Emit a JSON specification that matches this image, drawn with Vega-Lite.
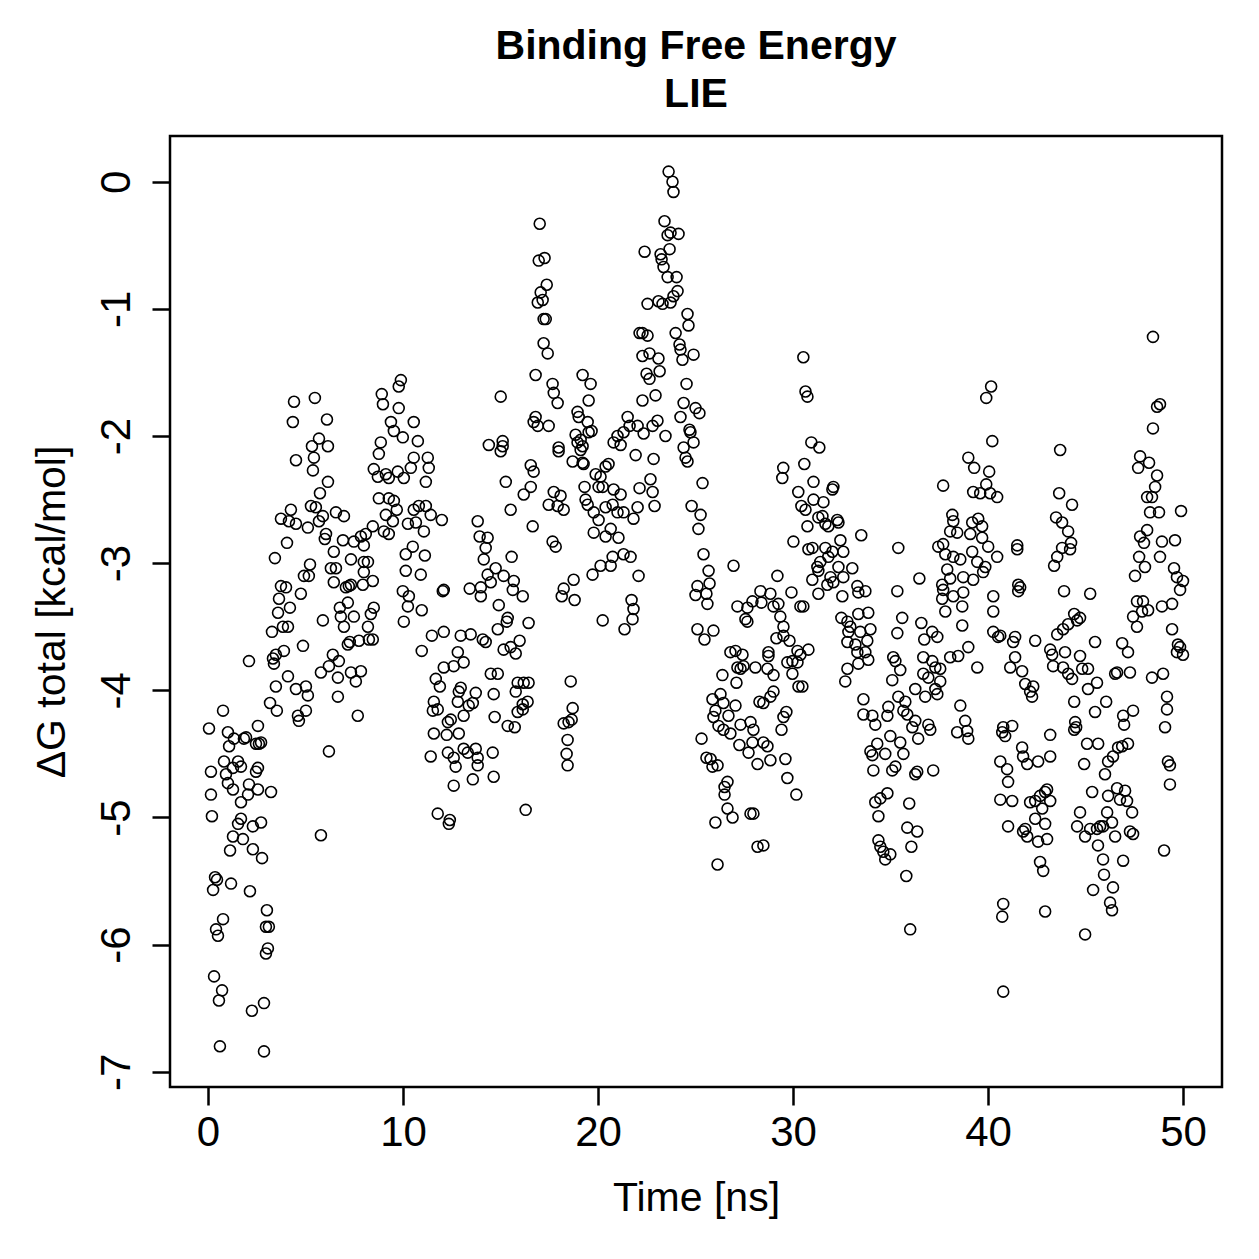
{
"$schema": "https://vega.github.io/schema/vega-lite/v6.json",
"width": 1052, "height": 951,
"autosize": {"type": "none"},
"padding": {"left": 170, "top": 136, "right": 37, "bottom": 172},
"background": "white",
"title": {"text": ["Binding Free Energy", "LIE"], "font": "Liberation Sans", "fontSize": 41, "fontWeight": "bold", "color": "black", "anchor": "middle", "offset": 20, "lineHeight": 48},
"data": {"values": [
{"t":0.77,"g":-4.16},{"t":0.05,"g":-4.30},{"t":1.02,"g":-4.33},{"t":2.56,"g":-4.28},{"t":1.33,"g":-4.38},{"t":1.95,"g":-4.37},{"t":1.84,"g":-4.38},{"t":1.08,"g":-4.44},{"t":2.46,"g":-4.42},{"t":2.61,"g":-4.42},{"t":2.72,"g":-4.41},{"t":3.18,"g":-4.10},{"t":3.53,"g":-4.16},{"t":4.61,"g":-4.20},{"t":4.66,"g":-4.24},{"t":0.82,"g":-4.56},{"t":1.54,"g":-4.56},{"t":1.69,"g":-4.60},{"t":0.15,"g":-4.64},{"t":0.92,"g":-4.66},{"t":1.28,"g":-4.61},{"t":2.56,"g":-4.61},{"t":2.46,"g":-4.64},{"t":1.02,"g":-4.73},{"t":1.28,"g":-4.78},{"t":2.10,"g":-4.74},{"t":2.56,"g":-4.78},{"t":3.23,"g":-4.80},{"t":0.15,"g":-4.82},{"t":2.05,"g":-4.82},{"t":1.69,"g":-4.88},{"t":0.20,"g":-4.99},{"t":1.69,"g":-5.01},{"t":1.54,"g":-5.05},{"t":2.30,"g":-5.07},{"t":2.72,"g":-5.04},{"t":1.28,"g":-5.15},{"t":1.79,"g":-5.17},{"t":1.13,"g":-5.26},{"t":2.30,"g":-5.25},{"t":2.77,"g":-5.32},{"t":0.36,"g":-5.47},{"t":0.46,"g":-5.49},{"t":0.26,"g":-5.57},{"t":1.18,"g":-5.52},{"t":2.15,"g":-5.58},{"t":3.02,"g":-5.73},{"t":0.77,"g":-5.80},{"t":0.41,"g":-5.88},{"t":0.51,"g":-5.93},{"t":2.97,"g":-5.86},{"t":3.12,"g":-5.86},{"t":3.07,"g":-6.03},{"t":2.97,"g":-6.07},{"t":0.31,"g":-6.25},{"t":0.72,"g":-6.36},{"t":0.56,"g":-6.44},{"t":2.87,"g":-6.46},{"t":2.25,"g":-6.52},{"t":0.61,"g":-6.80},{"t":2.87,"g":-6.84},
{"t":4.41,"g":-1.73},{"t":5.48,"g":-1.70},{"t":4.35,"g":-1.89},{"t":6.10,"g":-1.87},{"t":5.69,"g":-2.02},{"t":5.33,"g":-2.08},{"t":6.15,"g":-2.08},{"t":4.51,"g":-2.19},{"t":5.43,"g":-2.17},{"t":5.38,"g":-2.27},{"t":6.15,"g":-2.36},{"t":5.74,"g":-2.45},{"t":8.91,"g":-1.67},{"t":8.97,"g":-1.75},{"t":9.78,"g":-1.61},{"t":9.78,"g":-1.78},{"t":9.38,"g":-1.89},{"t":9.53,"g":-1.96},{"t":8.86,"g":-2.05},{"t":8.76,"g":-2.14},{"t":8.50,"g":-2.26},{"t":8.71,"g":-2.32},{"t":9.12,"g":-2.30},{"t":9.27,"g":-2.33},{"t":9.73,"g":-2.28},{"t":8.76,"g":-2.49},{"t":9.27,"g":-2.49},{"t":9.53,"g":-2.51},{"t":9.12,"g":-2.62},{"t":9.68,"g":-2.58},{"t":9.48,"g":-2.67},{"t":9.02,"g":-2.75},{"t":9.27,"g":-2.77},{"t":5.28,"g":-2.55},{"t":5.53,"g":-2.56},{"t":5.89,"g":-2.63},{"t":4.25,"g":-2.58},{"t":3.74,"g":-2.65},{"t":4.15,"g":-2.67},{"t":4.51,"g":-2.69},{"t":5.12,"g":-2.72},{"t":5.69,"g":-2.67},{"t":6.56,"g":-2.60},{"t":6.97,"g":-2.63},{"t":6.05,"g":-2.77},{"t":5.99,"g":-2.81},{"t":6.92,"g":-2.82},{"t":7.48,"g":-2.83},{"t":7.84,"g":-2.79},{"t":8.09,"g":-2.77},{"t":7.99,"g":-2.86},{"t":8.45,"g":-2.71},{"t":4.05,"g":-2.84},{"t":3.43,"g":-2.96},{"t":6.45,"g":-2.91},{"t":5.23,"g":-3.01},{"t":4.92,"g":-3.10},{"t":5.17,"g":-3.10},{"t":6.30,"g":-3.04},{"t":6.56,"g":-3.04},{"t":7.33,"g":-2.97},{"t":7.99,"g":-2.99},{"t":8.20,"g":-2.99},{"t":7.99,"g":-3.07},{"t":8.45,"g":-3.14},{"t":7.94,"g":-3.17},{"t":7.22,"g":-3.18},{"t":7.07,"g":-3.19},{"t":7.33,"g":-3.17},{"t":6.45,"g":-3.15},{"t":3.74,"g":-3.18},{"t":4.00,"g":-3.19},{"t":3.64,"g":-3.28},{"t":4.20,"g":-3.35},{"t":3.59,"g":-3.39},{"t":4.76,"g":-3.24},{"t":3.84,"g":-3.50},{"t":4.10,"g":-3.50},{"t":3.28,"g":-3.54},{"t":5.89,"g":-3.45},{"t":6.76,"g":-3.35},{"t":6.81,"g":-3.42},{"t":7.48,"g":-3.42},{"t":7.17,"g":-3.31},{"t":6.97,"g":-3.50},{"t":8.35,"g":-3.40},{"t":8.50,"g":-3.35},{"t":8.20,"g":-3.50},{"t":8.25,"g":-3.60},{"t":8.45,"g":-3.60},{"t":7.27,"g":-3.62},{"t":7.17,"g":-3.64},{"t":7.74,"g":-3.61},{"t":4.87,"g":-3.65},{"t":6.40,"g":-3.72},{"t":6.71,"g":-3.77},{"t":6.20,"g":-3.81},{"t":5.79,"g":-3.86},{"t":6.66,"g":-3.90},{"t":7.33,"g":-3.86},{"t":7.84,"g":-3.85},{"t":7.58,"g":-3.93},{"t":3.89,"g":-3.69},{"t":3.48,"g":-3.72},{"t":3.33,"g":-3.75},{"t":3.38,"g":-3.79},{"t":2.10,"g":-3.77},{"t":4.10,"g":-3.89},{"t":3.48,"g":-3.97},{"t":4.51,"g":-3.99},{"t":5.02,"g":-3.97},{"t":5.12,"g":-4.04},{"t":6.66,"g":-4.05},{"t":7.68,"g":-4.20},{"t":5.02,"g":-4.16},{"t":6.20,"g":-4.48},{"t":5.79,"g":-5.14},
{"t":17.01,"g":-0.33},{"t":16.96,"g":-0.62},{"t":17.26,"g":-0.60},{"t":17.37,"g":-0.81},{"t":17.06,"g":-0.87},{"t":16.91,"g":-0.95},{"t":17.16,"g":-0.93},{"t":17.21,"g":-1.08},{"t":17.32,"g":-1.08},{"t":17.21,"g":-1.27},{"t":17.42,"g":-1.35},{"t":16.80,"g":-1.52},{"t":17.67,"g":-1.59},{"t":17.73,"g":-1.66},{"t":17.93,"g":-1.74},{"t":19.21,"g":-1.52},{"t":19.62,"g":-1.59},{"t":19.52,"g":-1.72},{"t":15.01,"g":-1.69},{"t":16.80,"g":-1.85},{"t":16.70,"g":-1.89},{"t":16.91,"g":-1.92},{"t":17.47,"g":-1.92},{"t":18.95,"g":-1.81},{"t":19.01,"g":-1.85},{"t":19.47,"g":-1.89},{"t":19.67,"g":-1.96},{"t":19.52,"g":-1.97},{"t":18.85,"g":-1.99},{"t":19.11,"g":-2.03},{"t":18.95,"g":-2.05},{"t":19.21,"g":-2.08},{"t":19.11,"g":-2.11},{"t":18.70,"g":-2.20},{"t":19.21,"g":-2.21},{"t":19.26,"g":-2.22},{"t":17.98,"g":-2.09},{"t":17.98,"g":-2.12},{"t":14.40,"g":-2.07},{"t":15.11,"g":-2.04},{"t":15.11,"g":-2.08},{"t":15.01,"g":-2.12},{"t":16.55,"g":-2.23},{"t":16.70,"g":-2.28},{"t":15.27,"g":-2.36},{"t":16.19,"g":-2.46},{"t":16.55,"g":-2.40},{"t":17.73,"g":-2.44},{"t":18.08,"g":-2.47},{"t":19.88,"g":-2.30},{"t":20.03,"g":-2.40},{"t":19.31,"g":-2.40},{"t":9.89,"g":-1.56},{"t":10.55,"g":-1.89},{"t":9.99,"g":-2.01},{"t":10.76,"g":-2.04},{"t":10.55,"g":-2.17},{"t":11.27,"g":-2.17},{"t":11.32,"g":-2.25},{"t":10.40,"g":-2.25},{"t":10.04,"g":-2.33},{"t":11.17,"g":-2.36},
{"t":10.81,"g":-2.55},{"t":11.17,"g":-2.55},{"t":10.55,"g":-2.58},{"t":10.25,"g":-2.69},{"t":10.66,"g":-2.68},{"t":11.07,"g":-2.75},{"t":10.50,"g":-2.87},{"t":10.14,"g":-2.93},{"t":11.12,"g":-2.94},{"t":11.99,"g":-2.66},{"t":11.42,"g":-2.62},{"t":10.14,"g":-3.06},{"t":10.91,"g":-3.09},{"t":9.99,"g":-3.22},{"t":10.30,"g":-3.26},{"t":10.25,"g":-3.34},{"t":10.96,"g":-3.37},{"t":10.04,"g":-3.46},{"t":12.04,"g":-3.22},{"t":12.09,"g":-3.21},{"t":13.83,"g":-2.67},{"t":13.93,"g":-2.79},{"t":14.34,"g":-2.80},{"t":14.24,"g":-2.88},{"t":14.14,"g":-2.97},{"t":14.75,"g":-3.04},{"t":14.34,"g":-3.09},{"t":15.16,"g":-3.10},{"t":14.50,"g":-3.15},{"t":13.99,"g":-3.19},{"t":13.42,"g":-3.20},{"t":15.68,"g":-3.14},{"t":15.63,"g":-3.21},{"t":13.99,"g":-3.26},{"t":16.14,"g":-3.26},{"t":15.52,"g":-2.58},{"t":16.65,"g":-2.71},{"t":15.57,"g":-2.95},{"t":14.91,"g":-3.33},{"t":15.37,"g":-3.43},{"t":15.32,"g":-3.46},{"t":16.44,"g":-3.47},{"t":14.86,"g":-3.52},{"t":11.48,"g":-3.57},{"t":12.09,"g":-3.54},{"t":12.96,"g":-3.57},{"t":13.47,"g":-3.56},{"t":14.09,"g":-3.60},{"t":14.24,"g":-3.62},{"t":10.96,"g":-3.69},{"t":12.81,"g":-3.70},{"t":13.11,"g":-3.78},{"t":12.60,"g":-3.81},{"t":12.09,"g":-3.82},{"t":15.16,"g":-3.68},{"t":15.52,"g":-3.66},{"t":15.78,"g":-3.71},{"t":15.98,"g":-3.61},{"t":11.68,"g":-3.91},{"t":11.89,"g":-3.97},{"t":12.96,"g":-3.98},{"t":12.86,"g":-4.01},{"t":13.73,"g":-4.02},{"t":14.50,"g":-3.87},{"t":14.86,"g":-3.87},{"t":14.65,"g":-4.03},{"t":15.88,"g":-3.94},{"t":16.19,"g":-3.94},{"t":16.44,"g":-3.94},{"t":15.78,"g":-4.01},{"t":16.39,"g":-4.09},{"t":16.14,"g":-4.11},{"t":16.14,"g":-4.15},{"t":15.88,"g":-4.17},{"t":11.58,"g":-4.09},{"t":11.78,"g":-4.15},{"t":11.53,"g":-4.16},{"t":12.81,"g":-4.09},{"t":13.37,"g":-4.12},{"t":13.58,"g":-4.10},{"t":13.11,"g":-4.20},{"t":12.45,"g":-4.23},{"t":12.30,"g":-4.25},{"t":14.70,"g":-4.21},{"t":15.37,"g":-4.28},{"t":15.73,"g":-4.29},{"t":11.58,"g":-4.34},{"t":12.24,"g":-4.35},{"t":12.86,"g":-4.34},{"t":11.42,"g":-4.52},{"t":12.30,"g":-4.49},{"t":12.60,"g":-4.53},{"t":13.11,"g":-4.46},{"t":13.32,"g":-4.49},{"t":13.73,"g":-4.46},{"t":13.83,"g":-4.53},{"t":13.83,"g":-4.59},{"t":12.70,"g":-4.60},{"t":14.60,"g":-4.49},{"t":13.58,"g":-4.70},{"t":14.65,"g":-4.68},{"t":12.60,"g":-4.75},{"t":11.78,"g":-4.97},{"t":12.40,"g":-5.02},{"t":12.35,"g":-5.05},{"t":16.29,"g":-4.94},{"t":18.60,"g":-3.93},{"t":18.70,"g":-4.14},{"t":18.24,"g":-4.26},{"t":18.49,"g":-4.25},{"t":18.65,"g":-4.23},{"t":18.44,"g":-4.39},{"t":18.39,"g":-4.50},{"t":18.44,"g":-4.59},{"t":17.47,"g":-2.54},{"t":17.93,"g":-2.55},{"t":18.24,"g":-2.58},{"t":17.67,"g":-2.83},{"t":17.83,"g":-2.87},{"t":18.24,"g":-3.20},{"t":18.14,"g":-3.26},{"t":18.75,"g":-3.13},{"t":18.80,"g":-3.29},{"t":19.72,"g":-3.09},{"t":19.78,"g":-2.76},{"t":20.03,"g":-2.66},{"t":19.47,"g":-2.54},{"t":19.36,"g":-2.50},{"t":19.78,"g":-2.60},
{"t":23.62,"g":0.08},{"t":23.82,"g":0.00},{"t":23.87,"g":-0.08},{"t":23.41,"g":-0.31},{"t":23.57,"g":-0.42},{"t":23.72,"g":-0.40},{"t":24.13,"g":-0.41},{"t":22.39,"g":-0.55},{"t":23.21,"g":-0.57},{"t":23.26,"g":-0.61},{"t":23.36,"g":-0.67},{"t":23.67,"g":-0.53},{"t":23.57,"g":-0.75},{"t":24.03,"g":-0.75},{"t":24.08,"g":-0.86},{"t":23.87,"g":-0.90},{"t":23.72,"g":-0.95},{"t":23.31,"g":-0.96},{"t":23.10,"g":-0.94},{"t":22.54,"g":-0.96},{"t":24.59,"g":-1.04},{"t":24.64,"g":-1.13},{"t":22.13,"g":-1.19},{"t":22.28,"g":-1.19},{"t":22.54,"g":-1.21},{"t":23.98,"g":-1.19},{"t":24.18,"g":-1.28},{"t":24.23,"g":-1.32},{"t":24.33,"g":-1.40},{"t":24.90,"g":-1.36},{"t":22.28,"g":-1.37},{"t":22.64,"g":-1.35},{"t":23.10,"g":-1.39},{"t":22.49,"g":-1.51},{"t":22.64,"g":-1.55},{"t":23.16,"g":-1.49},{"t":24.54,"g":-1.59},{"t":22.28,"g":-1.72},{"t":22.95,"g":-1.68},{"t":24.39,"g":-1.74},{"t":25.00,"g":-1.78},{"t":25.20,"g":-1.82},{"t":24.23,"g":-1.85},{"t":24.69,"g":-1.95},{"t":24.74,"g":-1.97},{"t":24.90,"g":-2.05},{"t":24.39,"g":-2.09},{"t":24.49,"g":-2.17},{"t":24.59,"g":-2.20},{"t":21.52,"g":-1.85},{"t":21.62,"g":-1.92},{"t":21.31,"g":-1.97},{"t":21.00,"g":-2.00},{"t":20.80,"g":-2.05},{"t":21.16,"g":-2.07},{"t":22.03,"g":-1.92},{"t":22.34,"g":-1.98},{"t":22.80,"g":-1.92},{"t":23.05,"g":-1.88},{"t":23.46,"g":-2.00},{"t":21.93,"g":-2.15},{"t":22.85,"g":-2.18},{"t":20.39,"g":-2.24},{"t":20.54,"g":-2.22},{"t":20.13,"g":-2.32},{"t":20.24,"g":-2.40},{"t":20.80,"g":-2.42},{"t":21.16,"g":-2.46},{"t":22.69,"g":-2.34},{"t":22.80,"g":-2.44},{"t":22.13,"g":-2.41},{"t":25.36,"g":-2.37},{"t":29.50,"g":-2.25},{"t":29.45,"g":-2.33},{"t":30.27,"g":-2.44},{"t":20.75,"g":-2.54},{"t":20.39,"g":-2.56},{"t":21.00,"g":-2.60},{"t":21.31,"g":-2.60},{"t":22.03,"g":-2.56},{"t":21.82,"g":-2.65},{"t":22.90,"g":-2.55},{"t":20.65,"g":-2.73},{"t":21.05,"g":-2.80},{"t":20.39,"g":-2.79},{"t":20.75,"g":-2.95},{"t":21.31,"g":-2.93},{"t":21.67,"g":-2.95},{"t":20.65,"g":-3.02},{"t":20.13,"g":-3.02},{"t":22.08,"g":-3.10},{"t":21.72,"g":-3.29},{"t":21.82,"g":-3.36},{"t":21.77,"g":-3.44},{"t":21.36,"g":-3.52},{"t":20.24,"g":-3.45},
{"t":24.80,"g":-2.55},{"t":25.26,"g":-2.62},{"t":25.15,"g":-2.73},{"t":25.41,"g":-2.93},{"t":25.67,"g":-3.06},{"t":25.72,"g":-3.16},{"t":25.10,"g":-3.18},{"t":25.56,"g":-3.24},{"t":25.00,"g":-3.25},{"t":25.61,"g":-3.32},{"t":25.10,"g":-3.52},{"t":25.92,"g":-3.53},{"t":25.46,"g":-3.60},{"t":26.95,"g":-3.02},{"t":27.15,"g":-3.34},{"t":27.66,"g":-3.35},{"t":27.56,"g":-3.44},{"t":27.66,"g":-3.46},{"t":27.92,"g":-3.30},{"t":28.33,"g":-3.22},{"t":28.38,"g":-3.31},{"t":28.84,"g":-3.24},{"t":29.00,"g":-3.34},{"t":29.25,"g":-3.32},{"t":29.35,"g":-3.42},{"t":29.51,"g":-3.50},{"t":29.15,"g":-3.59},{"t":29.51,"g":-3.57},{"t":29.82,"g":-3.61},{"t":29.20,"g":-3.10},{"t":29.92,"g":-3.23},{"t":30.23,"g":-3.69},{"t":30.02,"g":-2.83},{"t":26.79,"g":-3.70},{"t":27.05,"g":-3.69},{"t":27.41,"g":-3.72},{"t":26.38,"g":-3.88},{"t":27.15,"g":-3.82},{"t":27.46,"g":-3.81},{"t":27.31,"g":-3.83},{"t":27.10,"g":-3.94},{"t":28.07,"g":-3.82},{"t":28.69,"g":-3.83},{"t":29.00,"g":-3.88},{"t":28.74,"g":-3.70},{"t":28.74,"g":-3.73},{"t":29.71,"g":-3.78},{"t":29.97,"g":-3.77},{"t":30.23,"g":-3.78},{"t":29.97,"g":-3.87},{"t":30.28,"g":-3.97},{"t":25.87,"g":-4.07},{"t":26.28,"g":-4.03},{"t":26.43,"g":-4.10},{"t":26.02,"g":-4.16},{"t":25.92,"g":-4.21},{"t":26.18,"g":-4.28},{"t":26.43,"g":-4.31},{"t":26.69,"g":-4.20},{"t":27.05,"g":-4.12},{"t":26.79,"g":-4.34},{"t":27.31,"g":-4.27},{"t":27.82,"g":-4.25},{"t":27.97,"g":-4.31},{"t":27.25,"g":-4.43},{"t":27.72,"g":-4.49},{"t":27.92,"g":-4.41},{"t":28.48,"g":-4.41},{"t":28.69,"g":-4.44},{"t":28.18,"g":-4.58},{"t":28.84,"g":-4.55},{"t":28.48,"g":-4.10},{"t":28.28,"g":-4.09},{"t":29.00,"g":-4.01},{"t":28.84,"g":-4.05},{"t":29.66,"g":-4.17},{"t":29.51,"g":-4.21},{"t":29.41,"g":-4.31},{"t":29.61,"g":-4.54},{"t":29.71,"g":-4.69},{"t":30.17,"g":-4.82},{"t":25.31,"g":-4.38},{"t":25.56,"g":-4.53},{"t":25.77,"g":-4.54},{"t":25.87,"g":-4.60},{"t":26.13,"g":-4.59},{"t":26.64,"g":-4.72},{"t":26.49,"g":-4.76},{"t":26.49,"g":-4.82},{"t":26.64,"g":-4.93},{"t":26.90,"g":-5.00},{"t":26.02,"g":-5.04},{"t":27.82,"g":-4.97},{"t":27.97,"g":-4.97},{"t":28.18,"g":-5.23},{"t":28.48,"g":-5.22},{"t":26.13,"g":-5.37},
{"t":30.53,"g":-1.38},{"t":30.64,"g":-1.65},{"t":30.74,"g":-1.69},{"t":30.94,"g":-2.05},{"t":31.35,"g":-2.09},{"t":30.58,"g":-2.22},{"t":31.05,"g":-2.36},{"t":32.07,"g":-2.40},{"t":32.02,"g":-2.42},{"t":31.05,"g":-2.50},{"t":31.56,"g":-2.52},{"t":30.43,"g":-2.55},{"t":30.64,"g":-2.58},{"t":31.30,"g":-2.64},{"t":31.51,"g":-2.63},{"t":31.81,"g":-2.71},{"t":32.27,"g":-2.66},{"t":32.33,"g":-2.68},{"t":31.66,"g":-2.69},{"t":30.74,"g":-2.71},{"t":32.43,"g":-2.82},{"t":33.50,"g":-2.78},{"t":30.79,"g":-2.89},{"t":31.00,"g":-2.88},{"t":31.66,"g":-2.88},{"t":32.02,"g":-2.91},{"t":32.58,"g":-2.91},{"t":31.81,"g":-2.95},{"t":31.25,"g":-3.03},{"t":31.40,"g":-2.99},{"t":31.30,"g":-3.06},{"t":32.33,"g":-3.03},{"t":33.04,"g":-3.04},{"t":30.99,"g":-3.13},{"t":31.92,"g":-3.11},{"t":32.07,"g":-3.15},{"t":32.58,"g":-3.11},{"t":31.76,"g":-3.17},{"t":33.30,"g":-3.18},{"t":33.35,"g":-3.23},{"t":33.71,"g":-3.22},{"t":31.30,"g":-3.24},{"t":32.53,"g":-3.26},{"t":35.40,"g":-2.88},{"t":35.35,"g":-3.22},{"t":36.48,"g":-3.12},{"t":37.70,"g":-2.39},{"t":38.99,"g":-2.17},{"t":39.29,"g":-2.25},{"t":40.06,"g":-2.28},{"t":39.91,"g":-2.38},{"t":39.24,"g":-2.44},{"t":39.60,"g":-2.45},{"t":40.11,"g":-2.45},{"t":40.47,"g":-2.48},{"t":40.16,"g":-1.61},{"t":39.91,"g":-1.70},{"t":40.22,"g":-2.04},{"t":38.17,"g":-2.62},{"t":38.22,"g":-2.67},{"t":38.06,"g":-2.75},{"t":38.42,"g":-2.76},{"t":39.19,"g":-2.68},{"t":39.50,"g":-2.65},{"t":39.70,"g":-2.71},{"t":39.09,"g":-2.77},{"t":39.70,"g":-2.80},{"t":40.01,"g":-2.87},{"t":40.47,"g":-2.95},{"t":37.45,"g":-2.87},{"t":37.70,"g":-2.85},{"t":37.81,"g":-2.93},{"t":38.22,"g":-2.95},{"t":38.58,"g":-2.97},{"t":39.19,"g":-2.91},{"t":39.45,"g":-2.99},{"t":39.86,"g":-3.03},{"t":39.75,"g":-3.07},{"t":39.24,"g":-3.13},{"t":38.73,"g":-3.11},{"t":37.91,"g":-3.05},{"t":38.06,"g":-3.12},{"t":37.65,"g":-3.17},{"t":37.70,"g":-3.21},{"t":38.22,"g":-3.26},{"t":38.73,"g":-3.23},{"t":37.65,"g":-3.28},{"t":40.27,"g":-3.26},
{"t":30.38,"g":-3.34},{"t":30.53,"g":-3.34},{"t":32.48,"g":-3.43},{"t":32.79,"g":-3.46},{"t":32.94,"g":-3.50},{"t":32.84,"g":-3.54},{"t":33.35,"g":-3.40},{"t":33.86,"g":-3.39},{"t":33.97,"g":-3.52},{"t":33.45,"g":-3.54},{"t":32.79,"g":-3.62},{"t":33.20,"g":-3.64},{"t":33.30,"g":-3.70},{"t":33.81,"g":-3.61},{"t":33.71,"g":-3.70},{"t":33.86,"g":-3.76},{"t":33.35,"g":-3.79},{"t":32.79,"g":-3.83},{"t":32.68,"g":-3.93},{"t":30.79,"g":-3.68},{"t":30.38,"g":-3.72},{"t":30.48,"g":-3.97},{"t":35.60,"g":-3.43},{"t":35.35,"g":-3.55},{"t":36.58,"g":-3.47},{"t":37.14,"g":-3.54},{"t":37.40,"g":-3.58},{"t":36.73,"g":-3.60},{"t":38.68,"g":-3.34},{"t":37.81,"g":-3.38},{"t":38.68,"g":-3.49},{"t":38.06,"g":-3.74},{"t":38.47,"g":-3.73},{"t":38.99,"g":-3.66},{"t":39.45,"g":-3.82},{"t":35.14,"g":-3.74},{"t":35.25,"g":-3.77},{"t":35.50,"g":-3.84},{"t":35.09,"g":-3.92},{"t":36.68,"g":-3.74},{"t":37.14,"g":-3.77},{"t":37.30,"g":-3.82},{"t":37.55,"g":-3.83},{"t":36.68,"g":-3.87},{"t":36.94,"g":-3.90},{"t":37.55,"g":-3.93},{"t":37.30,"g":-3.99},{"t":37.40,"g":-4.03},{"t":36.78,"g":-4.05},{"t":36.27,"g":-3.99},{"t":35.40,"g":-4.05},{"t":35.76,"g":-4.09},{"t":33.61,"g":-4.07},{"t":33.61,"g":-4.19},{"t":34.07,"g":-4.20},{"t":34.22,"g":-4.27},{"t":34.89,"g":-4.13},{"t":34.84,"g":-4.20},{"t":35.66,"g":-4.16},{"t":35.86,"g":-4.19},{"t":36.27,"g":-4.24},{"t":36.12,"g":-4.29},{"t":36.94,"g":-4.27},{"t":37.04,"g":-4.31},{"t":36.42,"g":-4.38},{"t":38.58,"g":-4.12},{"t":38.83,"g":-4.24},{"t":38.42,"g":-4.33},{"t":38.93,"g":-4.32},{"t":38.99,"g":-4.38},{"t":34.99,"g":-4.36},{"t":34.32,"g":-4.42},{"t":33.97,"g":-4.48},{"t":34.07,"g":-4.51},{"t":34.73,"g":-4.50},{"t":35.50,"g":-4.41},{"t":35.66,"g":-4.50},{"t":34.12,"g":-4.63},{"t":35.09,"g":-4.63},{"t":35.25,"g":-4.60},{"t":36.27,"g":-4.66},{"t":36.37,"g":-4.64},{"t":37.19,"g":-4.63},{"t":34.22,"g":-4.88},{"t":34.48,"g":-4.85},{"t":34.84,"g":-4.81},{"t":34.38,"g":-4.99},{"t":35.96,"g":-4.89},{"t":35.86,"g":-5.08},{"t":36.37,"g":-5.11},{"t":36.07,"g":-5.23},{"t":35.81,"g":-5.46},{"t":34.38,"g":-5.18},{"t":34.48,"g":-5.23},{"t":34.63,"g":-5.27},{"t":34.73,"g":-5.33},{"t":34.99,"g":-5.29},{"t":36.01,"g":-5.88},{"t":40.27,"g":-3.54},{"t":40.52,"g":-3.58},{"t":40.27,"g":-3.38},
{"t":48.46,"g":-1.22},{"t":48.67,"g":-1.77},{"t":48.82,"g":-1.75},{"t":48.46,"g":-1.94},{"t":43.70,"g":-2.11},{"t":47.80,"g":-2.16},{"t":48.26,"g":-2.21},{"t":47.70,"g":-2.25},{"t":48.67,"g":-2.31},{"t":48.57,"g":-2.40},{"t":48.16,"g":-2.48},{"t":48.41,"g":-2.48},{"t":48.31,"g":-2.60},{"t":48.77,"g":-2.60},{"t":49.90,"g":-2.59},{"t":43.65,"g":-2.45},{"t":44.31,"g":-2.54},{"t":43.49,"g":-2.64},{"t":43.80,"g":-2.68},{"t":44.11,"g":-2.75},{"t":44.26,"g":-2.84},{"t":43.80,"g":-2.88},{"t":43.55,"g":-2.95},{"t":43.39,"g":-3.02},{"t":44.21,"g":-2.89},{"t":48.16,"g":-2.74},{"t":47.80,"g":-2.79},{"t":48.00,"g":-2.84},{"t":47.75,"g":-2.95},{"t":48.05,"g":-3.03},{"t":47.54,"g":-3.10},{"t":48.92,"g":-2.83},{"t":49.59,"g":-2.82},{"t":48.82,"g":-2.95},{"t":49.54,"g":-3.04},{"t":49.69,"g":-3.11},{"t":50.00,"g":-3.14},{"t":49.85,"g":-3.21},{"t":41.50,"g":-2.86},{"t":41.50,"g":-2.89},{"t":41.55,"g":-3.17},{"t":41.65,"g":-3.19},{"t":41.55,"g":-3.22},{"t":43.90,"g":-3.22},{"t":45.24,"g":-3.24},
{"t":47.64,"g":-3.30},{"t":47.95,"g":-3.30},{"t":48.21,"g":-3.37},{"t":47.90,"g":-3.38},{"t":47.44,"g":-3.42},{"t":47.64,"g":-3.50},{"t":48.92,"g":-3.34},{"t":49.44,"g":-3.32},{"t":49.44,"g":-3.52},{"t":49.74,"g":-3.64},{"t":49.85,"g":-3.66},{"t":49.69,"g":-3.70},{"t":50.00,"g":-3.72},{"t":44.42,"g":-3.40},{"t":44.72,"g":-3.43},{"t":44.57,"g":-3.45},{"t":44.11,"g":-3.48},{"t":43.85,"g":-3.52},{"t":43.55,"g":-3.56},{"t":42.42,"g":-3.61},{"t":41.39,"g":-3.58},{"t":41.29,"g":-3.62},{"t":40.63,"g":-3.57},{"t":45.49,"g":-3.62},{"t":46.88,"g":-3.63},{"t":47.18,"g":-3.70},{"t":43.19,"g":-3.68},{"t":43.29,"g":-3.72},{"t":43.95,"g":-3.70},{"t":44.72,"g":-3.73},{"t":43.34,"g":-3.81},{"t":43.85,"g":-3.82},{"t":44.11,"g":-3.87},{"t":44.31,"g":-3.91},{"t":44.83,"g":-3.83},{"t":45.13,"g":-3.83},{"t":41.39,"g":-3.74},{"t":41.14,"g":-3.82},{"t":41.75,"g":-3.85},{"t":41.91,"g":-3.95},{"t":42.32,"g":-3.97},{"t":42.26,"g":-4.05},{"t":42.16,"g":-4.01},{"t":45.59,"g":-3.94},{"t":45.13,"g":-3.99},{"t":44.42,"g":-4.09},{"t":46.06,"g":-4.09},{"t":45.49,"g":-4.17},{"t":46.62,"g":-3.86},{"t":46.52,"g":-3.87},{"t":47.28,"g":-3.86},{"t":48.41,"g":-3.90},{"t":48.98,"g":-3.87},{"t":49.18,"g":-4.05},{"t":49.18,"g":-4.15},{"t":49.08,"g":-4.29},{"t":46.93,"g":-4.20},{"t":47.44,"g":-4.16},{"t":46.98,"g":-4.27},{"t":44.47,"g":-4.25},{"t":44.52,"g":-4.29},{"t":44.42,"g":-4.31},{"t":40.78,"g":-4.29},{"t":41.24,"g":-4.28},{"t":40.73,"g":-4.33},{"t":40.88,"g":-4.36},{"t":43.19,"g":-4.35},{"t":41.75,"g":-4.45},{"t":41.80,"g":-4.52},{"t":42.01,"g":-4.58},{"t":42.57,"g":-4.56},{"t":43.19,"g":-4.52},{"t":40.98,"g":-4.62},{"t":41.03,"g":-4.72},{"t":40.63,"g":-4.56},{"t":40.63,"g":-4.86},{"t":41.24,"g":-4.87},{"t":42.16,"g":-4.88},{"t":42.42,"g":-4.87},{"t":42.67,"g":-4.83},{"t":42.93,"g":-4.80},{"t":43.03,"g":-4.78},{"t":43.19,"g":-4.87},{"t":42.78,"g":-4.93},{"t":42.42,"g":-5.01},{"t":42.93,"g":-5.05},{"t":43.03,"g":-5.17},{"t":42.57,"g":-5.19},{"t":41.80,"g":-5.11},{"t":41.91,"g":-5.09},{"t":42.01,"g":-5.15},{"t":41.03,"g":-5.07},{"t":42.67,"g":-5.35},{"t":42.83,"g":-5.42},{"t":45.08,"g":-4.42},{"t":45.65,"g":-4.42},{"t":44.93,"g":-4.58},{"t":46.00,"g":-4.66},{"t":46.16,"g":-4.56},{"t":46.41,"g":-4.52},{"t":46.67,"g":-4.45},{"t":46.88,"g":-4.44},{"t":47.18,"g":-4.42},{"t":45.34,"g":-4.80},{"t":46.16,"g":-4.83},{"t":46.62,"g":-4.77},{"t":47.03,"g":-4.79},{"t":46.77,"g":-4.86},{"t":47.13,"g":-4.87},{"t":47.39,"g":-4.96},{"t":46.11,"g":-4.96},{"t":44.72,"g":-4.96},{"t":44.57,"g":-5.07},{"t":44.98,"g":-5.15},{"t":45.24,"g":-5.09},{"t":45.59,"g":-5.09},{"t":45.75,"g":-5.07},{"t":45.90,"g":-5.07},{"t":46.36,"g":-5.04},{"t":46.52,"g":-5.15},{"t":47.28,"g":-5.11},{"t":47.44,"g":-5.13},{"t":45.64,"g":-5.22},{"t":45.90,"g":-5.33},{"t":45.95,"g":-5.45},{"t":46.93,"g":-5.34},{"t":45.39,"g":-5.57},{"t":46.41,"g":-5.55},{"t":46.26,"g":-5.67},{"t":46.36,"g":-5.73},{"t":44.98,"g":-5.92},{"t":42.93,"g":-5.74},{"t":49.23,"g":-4.56},{"t":49.33,"g":-4.59},{"t":49.33,"g":-4.74},{"t":49.03,"g":-5.26},{"t":40.78,"g":-5.68},{"t":40.73,"g":-5.78},{"t":40.78,"g":-6.37}
]},
"mark": {"type": "point", "shape": "circle", "filled": false, "stroke": "black", "strokeWidth": 1.6, "size": 120, "opacity": 1},
"encoding": {
  "x": {"field": "t", "type": "quantitative", "scale": {"domain": [-1.95, 52], "nice": false, "zero": false},
        "axis": {"values": [0, 10, 20, 30, 40, 50], "title": "Time [ns]", "labelPadding": 7, "titlePadding": 25, "labelExpr": "'' + datum.value"}},
  "y": {"field": "g", "type": "quantitative", "scale": {"domain": [-7.12, 0.36], "nice": false, "zero": false},
        "axis": {"values": [-7, -6, -5, -4, -3, -2, -1, 0], "title": "ΔG total [kcal/mol]", "labelAngle": 270, "labelAlign": "center", "labelBaseline": "bottom", "labelPadding": 14, "titlePadding": 22, "labelExpr": "'' + datum.value"}}
},
"config": {
  "view": {"stroke": "black", "strokeWidth": 2.5},
  "axis": {"domain": false, "grid": false, "ticks": true, "tickColor": "black", "tickWidth": 2.5, "tickSize": 18, "labelFont": "Liberation Sans", "labelFontSize": 42, "labelColor": "black", "titleFont": "Liberation Sans", "titleFontSize": 41, "titleFontWeight": "normal", "titleColor": "black"}
}
}
